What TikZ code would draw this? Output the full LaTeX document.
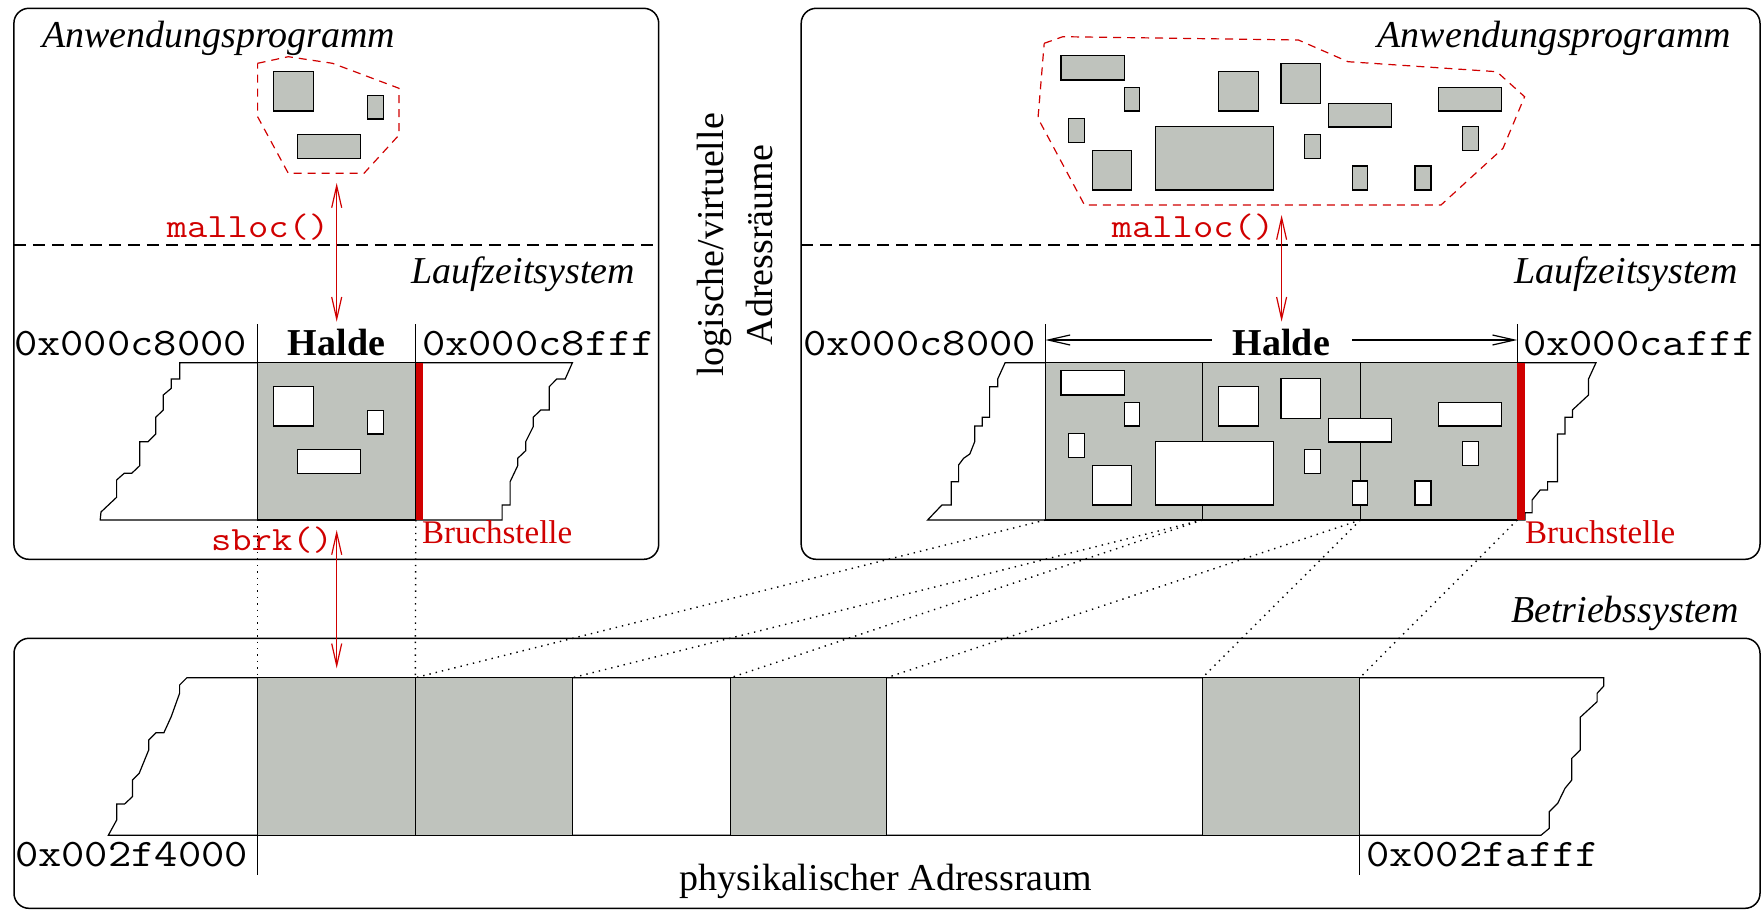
\documentclass[tikz,border=0pt]{standalone}
\usepackage{fontspec}
\usepackage{graphicx}
\setmainfont{Liberation Serif}
\usetikzlibrary{arrows.meta}
\definecolor{memgray}{RGB}{191,195,189}
\definecolor{xred}{RGB}{208,0,0}
\newcommand{\bigfont}{\fontsize{38}{49}\selectfont}
\newcommand{\monotxt}[2]{\scalebox{1.16}[1]{\fontsize{#1}{#1}\selectfont\ttfamily #2}}
\newcommand{\smallrm}{\fontsize{33}{40}\selectfont}
\begin{document}
\begin{tikzpicture}[x=1pt,y=-1pt,
  every node/.style={inner sep=0pt, outer sep=0pt},
  panel/.style={line width=1.5pt, rounded corners=15pt},
  ln/.style={line width=1.2pt, line join=miter},
  blk/.style={line width=1.2pt, fill=memgray},
  hole/.style={line width=1.2pt, fill=white},
  layersep/.style={line width=1.2pt, dash pattern=on 12pt off 7pt},
  heapregion/.style={xred, line width=1.2pt, dash pattern=on 8pt off 6pt},
  call/.style={xred, line width=1.2pt, {Straight Barb[length=22pt,width=10pt]}-{Straight Barb[length=22pt,width=10pt]}},
  sizearrow/.style={line width=1.2pt, -{Straight Barb[length=22pt,width=10pt]}},
  mapline/.style={line width=1.4pt, dash pattern=on 1.4pt off 5pt},
  lbl/.style={font=\bigfont},
  ilbl/.style={font=\bigfont\itshape},
  code/.style={text=xred},
  brk/.style={font=\smallrm, text=xred}
]
\useasboundingbox (0,0) rectangle (1762,910);

% ---------- panels ----------
\draw[panel] (13.9,8.3) rectangle (658.7,559.3);
\draw[panel] (801.2,8.3) rectangle (1760,559.3);
\draw[panel] (14,638.3) rectangle (1760,908.3);
\draw[layersep] (13.9,245) -- (658.7,245);
\draw[layersep] (801.2,245) -- (1760,245);

% ---------- labels ----------
\node[ilbl, anchor=base west] (appL) at (42,47) {Anwendungsprogramm};
\node[ilbl, anchor=base east] (appR) at (1731,47) {Anwendungsprogramm};
\node[ilbl, anchor=base east] (rtL) at (635,283) {Laufzeitsystem};
\node[ilbl, anchor=base east] (rtR) at (1738,283) {Laufzeitsystem};
\node[ilbl, anchor=base east] (os) at (1739,622) {Betriebssystem};
\node[lbl, anchor=base] (phys) at (886,890) {physikalischer Adressraum};
\node[lbl, rotate=90, align=center] (virt) at (735,245) {logische/virtuelle\\Adressräume};

% ---------- left: program objects ----------
\draw[heapregion] (257.6,63.3) -- (288.3,56.7) -- (332.5,63.3) -- (399,88.3) -- (399,135)
  -- (364,173.3) -- (288.3,173.3) -- (257.6,116.7) -- cycle;
\foreach \a/\b/\c/\d in {273.6/71.7/313.1/111, 367.8/95.3/383.8/119, 297.1/134.7/360.3/158.3}
  \draw[blk] (\a,\b) rectangle (\c,\d);

% ---------- left: heap ----------
\draw[ln, fill=white] (179.7,362.7) -- (572.4,362.7) -- (565.2,379) -- (556.8,379) -- (549.2,386.7)
  -- (549.2,410) -- (540.8,410) -- (533.2,417.3) -- (533.2,426.7) -- (525.7,441.7) -- (525.7,450.7)
  -- (517.7,458.3) -- (517.7,465.7) -- (510.1,481.7) -- (510.1,505) -- (502.1,505) -- (502.1,520)
  -- (100.2,520) -- (101,512) -- (116.6,497.3) -- (116.6,480) -- (124.2,473.3) -- (131.7,473.3)
  -- (139.7,465.7) -- (139.7,441.7) -- (148.1,441.7) -- (155.7,434) -- (155.7,417.3) -- (163.3,410)
  -- (163.3,395) -- (171.3,388.3) -- (171.3,379) -- (179.7,379) -- cycle;
\draw[blk] (257.6,362.7) rectangle (415.8,520);
\foreach \a/\b/\c/\d in {273.6/71.7/313.1/111, 367.8/95.3/383.8/119, 297.1/134.7/360.3/158.3}
  \draw[hole] (\a,\b+315) rectangle (\c,\d+315);
\fill[xred] (415.8,362.7) rectangle (422.5,520);
\coordinate (hLa) at (257.6,324);
\coordinate (hLb) at (415.8,324);
\draw[ln] (hLa) -- (257.6,362.7);
\draw[ln] (hLb) -- (415.8,362.7);
\node[anchor=base west] (aL1) at (14,355) {\monotxt{39}{0x000c8000}};
\node[lbl, font=\bigfont\bfseries, anchor=base] (haldeL) at (336.5,355) {Halde};
\node[anchor=base west] (aL2) at (422,355) {\monotxt{39}{0x000c8fff}};
\node[brk, anchor=base west] (brkL) at (422,543) {Bruchstelle};

% calls left
\coordinate (mallocLtop) at (336.7,183);
\coordinate (mallocLbot) at (336.7,321.7);
\coordinate (sbrkTop) at (336.7,530);
\coordinate (sbrkBot) at (336.7,668.3);
\draw[call] (mallocLtop) -- (mallocLbot);
\draw[call] (sbrkTop) -- (sbrkBot);
\node[code, anchor=base] (mallocL) at (248,237) {\monotxt{34}{malloc()}};
\node[code, anchor=base] (sbrk) at (272,550) {\monotxt{34}{sbrk()}};

% ---------- right: program objects ----------
\draw[heapregion] (1044.2,43.3) -- (1062.8,36.7) -- (1298.4,40) -- (1348,61.7) -- (1496.8,71.7)
  -- (1524.6,96.7) -- (1503,148.3) -- (1441,205) -- (1084.5,205) -- (1038,118.3) -- cycle;
\foreach \a/\b/\c/\d in {1060.9/55.7/1124.2/80, 1124.2/87.3/1139.7/111, 1068.4/118.7/1084.5/142.7,
  1092.5/150.3/1131.6/190, 1155.2/126.7/1273.6/190, 1218.4/71.3/1258.1/111, 1281/63.3/1320.7/103.3,
  1328.1/103.3/1391.4/127, 1304.6/134.7/1320.7/158.3, 1352.3/166/1367.8/190, 1414.9/166/1431/190,
  1438.5/87.3/1501.7/111, 1462.6/126.7/1478.2/150.7}
  \draw[blk] (\a,\b) rectangle (\c,\d);

% ---------- right: heap ----------
\draw[ln, fill=white] (1005.1,362.7) -- (1596,362.7) -- (1588.5,379) -- (1588.5,395) -- (1572.4,410)
  -- (1572.4,417.3) -- (1565,417.3) -- (1565,434) -- (1557.5,434) -- (1557.5,481.7) -- (1547.6,481.7)
  -- (1547.6,490) -- (1540.2,490) -- (1532.1,500) -- (1532.1,512.7) -- (1525,512.7) -- (1525,520)
  -- (927.6,520) -- (941.9,505) -- (951.2,505) -- (951.2,481.7) -- (958.6,481.7) -- (958.6,465)
  -- (963.6,458.3) -- (969.8,454) -- (974.7,441.7) -- (974.7,426) -- (982.2,426) -- (982.2,417.3)
  -- (989.6,417.3) -- (989.6,386.7) -- (997.7,386.7) -- (997.7,379) -- cycle;
\draw[blk] (1045.4,362.7) rectangle (1517.2,520);
\draw[ln] (1202.3,362.7) -- (1202.3,520);
\draw[ln] (1360.4,362.7) -- (1360.4,520);
\foreach \a/\b/\c/\d in {1060.9/55.7/1124.2/80, 1124.2/87.3/1139.7/111, 1068.4/118.7/1084.5/142.7,
  1092.5/150.3/1131.6/190, 1155.2/126.7/1273.6/190, 1218.4/71.3/1258.1/111, 1281/63.3/1320.7/103.3,
  1328.1/103.3/1391.4/127, 1304.6/134.7/1320.7/158.3, 1352.3/166/1367.8/190, 1414.9/166/1431/190,
  1438.5/87.3/1501.7/111, 1462.6/126.7/1478.2/150.7}
  \draw[hole] (\a,\b+315) rectangle (\c,\d+315);
\fill[xred] (1517.2,362.7) rectangle (1525,520);
\coordinate (hRa) at (1045.4,324);
\coordinate (hRb) at (1517.2,324);
\draw[ln] (hRa) -- (1045.4,362.7);
\draw[ln] (hRb) -- (1517.2,362.7);
\node[anchor=base west] (aR1) at (803,355) {\monotxt{39}{0x000c8000}};
\node[lbl, font=\bigfont\bfseries, anchor=base] (haldeR) at (1281.3,355) {Halde};
\node[anchor=base west] (aR2) at (1523,355) {\monotxt{39}{0x000cafff}};
\node[brk, anchor=base west] (brkR) at (1525,543) {Bruchstelle};
\coordinate (hArrL) at (1045.4,340);
\coordinate (hArrR) at (1517.2,340);
\draw[sizearrow] (1211.6,340) -- (hArrL);
\draw[sizearrow] (1352.3,340) -- (hArrR);
\coordinate (mallocRtop) at (1281.6,215);
\coordinate (mallocRbot) at (1281.6,321.7);
\draw[call] (mallocRtop) -- (mallocRbot);
\node[code, anchor=base] (mallocR) at (1193,237) {\monotxt{34}{malloc()}};

% ---------- physical memory ----------
\draw[ln, fill=white] (186.9,677.7) -- (1603.8,677.7) -- (1603.8,686) -- (1597.1,693.3) -- (1597.1,701.7)
  -- (1580.2,717.3) -- (1580.2,750) -- (1571.8,758.3) -- (1571.8,780) -- (1565,788.3) -- (1557.7,803.3)
  -- (1549.3,811.7) -- (1549.3,828.3) -- (1540.9,835.3) -- (108.3,835.3) -- (116.7,820) -- (116.7,804)
  -- (124.6,804) -- (132.4,796.7) -- (132.4,780) -- (139.2,773.3) -- (148.7,750) -- (148.7,740)
  -- (156,732.7) -- (163.9,732.7) -- (171.2,716.7) -- (179.6,693.3) -- (179.6,685) -- cycle;
\draw[blk] (257.6,677.7) rectangle (415.3,835.3);
\draw[blk] (415.3,677.7) rectangle (572.4,835.3);
\draw[blk] (730.6,677.7) rectangle (886.7,835.3);
\draw[blk] (1202.3,677.7) rectangle (1359.8,835.3);
\draw[ln] (257.6,835.3) -- (257.6,875);
\draw[ln] (1359.8,835.3) -- (1359.8,875);
\node[anchor=base west] (p1) at (15,866.7) {\monotxt{39}{0x002f4000}};
\node[anchor=base west] (p2) at (1366,866.7) {\monotxt{39}{0x002fafff}};

% ---------- mappings ----------
\coordinate (vL1) at (257.6,520);  \coordinate (vL2) at (415.8,520);
\coordinate (v1) at (1045.4,520);  \coordinate (v2) at (1202.3,520);
\coordinate (v3) at (1360.4,520);  \coordinate (v4) at (1517.2,520);
\coordinate (pA) at (257.6,677.7); \coordinate (pB) at (415.3,677.7);
\coordinate (pC) at (572.4,677.7); \coordinate (pD) at (730.6,677.7);
\coordinate (pE) at (886.7,677.7); \coordinate (pF) at (1202.3,677.7);
\coordinate (pG) at (1359.8,677.7);
\draw[mapline] (vL1) -- (pA);
\draw[mapline] (vL2) -- (pB);
\draw[mapline] (v1) -- (pB);
\draw[mapline] (v2) -- (pC);
\draw[mapline] (v2) -- (pD);
\draw[mapline] (v3) -- (pE);
\draw[mapline] (v3) -- (pF);
\draw[mapline] (v4) -- (pG);
\end{tikzpicture}
\end{document}
